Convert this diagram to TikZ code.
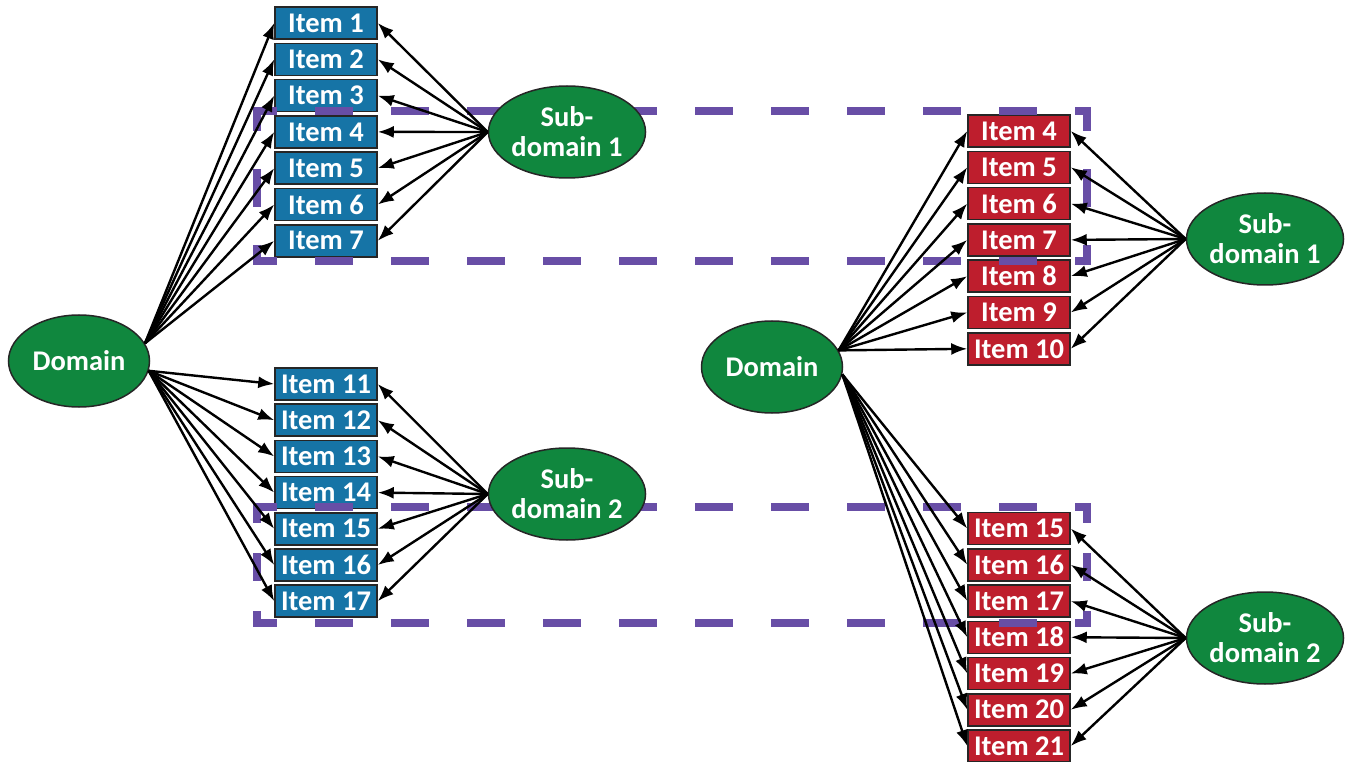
\documentclass[tikz,border=0pt]{standalone}
\usepackage{fontspec}
\setmainfont{Carlito}
\usetikzlibrary{shapes.geometric, arrows.meta, positioning}

\definecolor{itemblue}{RGB}{22,116,166}
\definecolor{itemred}{RGB}{190,30,45}
\definecolor{factorgreen}{RGB}{16,135,62}
\definecolor{groupviolet}{RGB}{104,78,166}

\begin{document}
\begin{tikzpicture}[
      x=1pt, y=-1pt,
      every node/.style={font=\fontsize{28.5}{30}\selectfont\bfseries, text=white},
      item/.style={draw=black!85, line width=1.5pt, minimum width=102pt, minimum height=32pt, inner sep=0pt},
      blueitem/.style={item, fill=itemblue},
      reditem/.style={item, fill=itemred},
      factor/.style={ellipse, draw=black!85, line width=1.5pt, fill=factorgreen, minimum width=141pt, minimum height=92pt, inner sep=0pt, align=center},
      load/.style={line width=2.4pt, -{Latex[length=16pt, width=12pt]}},
      group/.style={draw=groupviolet, line width=8pt, line cap=rect, dash pattern=on 30pt off 46pt, dash phase=14pt},
      shortgroup/.style={group, dash pattern=on 20pt off 38pt, dash phase=8pt}
    ]
    \useasboundingbox (0,0) rectangle (1345,762);
    % item boxes
    \foreach \i in {1,...,7}
      \node[blueitem] (litem\i) at (326, {23+36.3*(\i-1)}) {Item \i};
    \foreach \i in {11,...,17}
      \node[blueitem] (litem\i) at (326, {384+36.2*(\i-11)}) {Item \i};
    \foreach \i in {4,...,10}
      \node[reditem] (ritem\i) at (1019, {131+36.3*(\i-4)}) {Item \i};
    \foreach \i in {15,...,21}
      \node[reditem] (ritem\i) at (1019, {528.5+36.25*(\i-15)}) {Item \i};
    % dashed groups
    \coordinate (tnw) at (257,111); \coordinate (tne) at (1087,111);
    \coordinate (tsw) at (257,261); \coordinate (tse) at (1087,261);
    \coordinate (bnw) at (257,507); \coordinate (bne) at (1087,507);
    \coordinate (bsw) at (257,623); \coordinate (bse) at (1087,623);
    \draw[group] (tnw) -- (tne);
    \draw[group] (tsw) -- (tse);
    \draw[group] (tnw) -- (tsw);
    \draw[group] (tne) -- (tse);
    \draw[group] (bnw) -- (bne);
    \draw[group] (bsw) -- (bse);
    \draw[shortgroup] (bnw) -- (bsw);
    \draw[shortgroup] (bne) -- (bse);
    % factors
    \node[factor] (ldomain) at (79,361) {Domain};
    \node[factor] (lsub1) at (567,132) {Sub-\\domain 1};
    \node[factor] (lsub2) at (567,494) {Sub-\\domain 2};
    \node[factor] (rdomain) at (772,367) {Domain};
    \node[factor] (rsub1) at (1265,239) {Sub-\\domain 1};
    \node[factor] (rsub2) at (1265,638) {Sub-\\domain 2};
    % loadings
    \foreach \i in {1,...,7} {
      \draw[load] (ldomain.15) -- (litem\i.west);
      \draw[load] (lsub1.west) -- (litem\i.east);
    }
    \foreach \i in {11,...,17} {
      \draw[load] (ldomain.-8) -- (litem\i.west);
      \draw[load] (lsub2.west) -- (litem\i.east);
    }
    \foreach \i in {4,...,10} {
      \draw[load] (rdomain.14) -- (ritem\i.west);
      \draw[load] (rsub1.west) -- (ritem\i.east);
    }
    \foreach \i in {15,...,21} {
      \draw[load] (rdomain.-6) -- (ritem\i.west);
      \draw[load] (rsub2.west) -- (ritem\i.east);
    }
\end{tikzpicture}
\end{document}
